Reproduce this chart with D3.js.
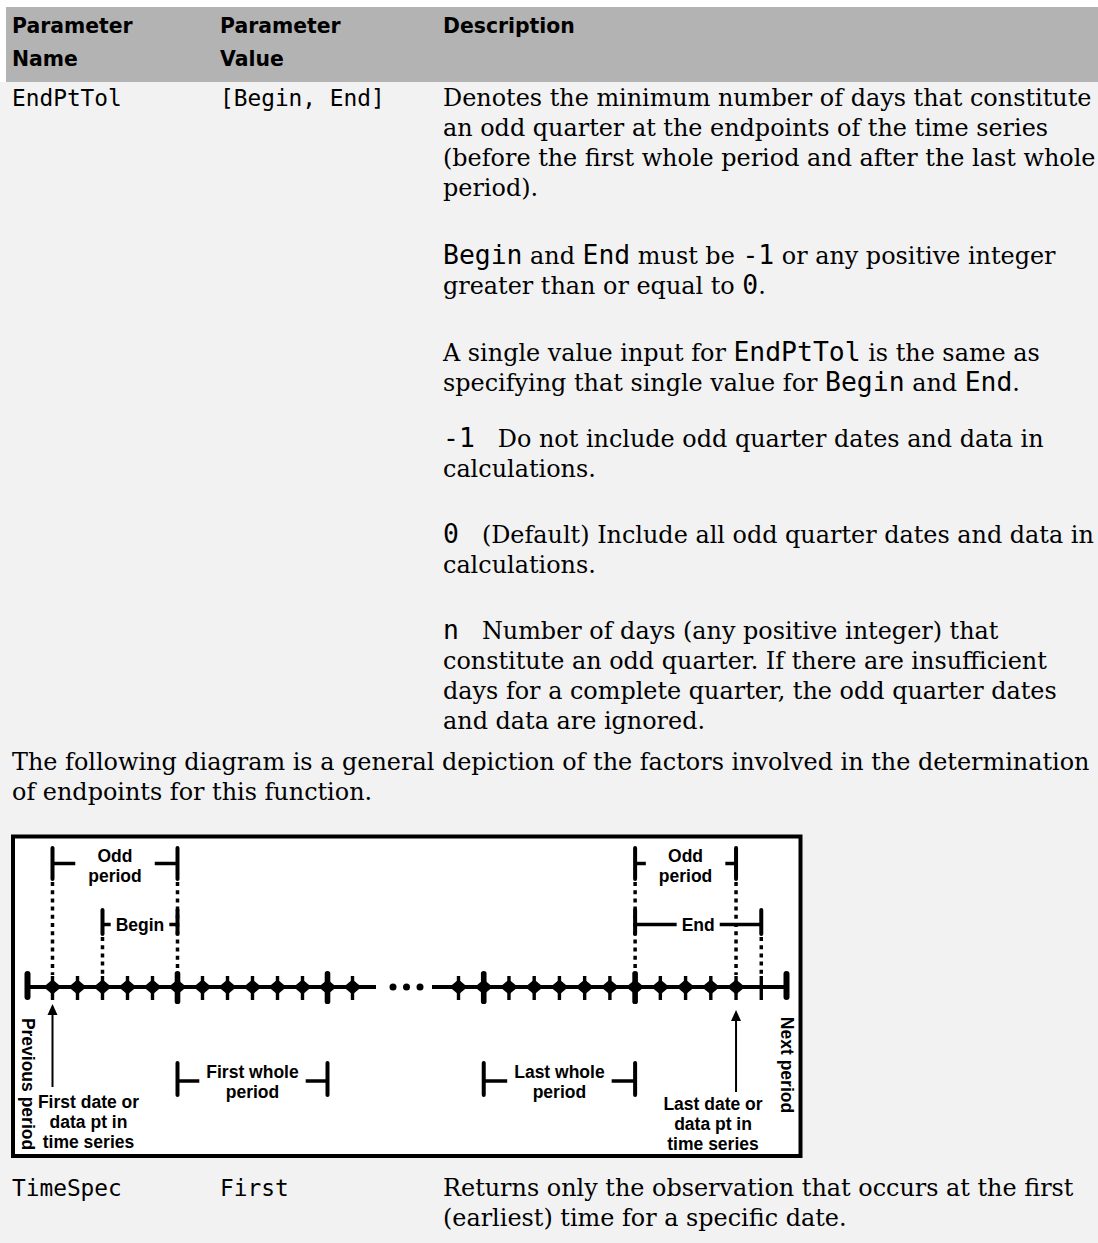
<!DOCTYPE html>
<html><head><meta charset="utf-8">
<script src="https://cdn.jsdelivr.net/npm/d3@7"></script>
<style>html,body{margin:0;padding:0;background:#f2f2f2;overflow:hidden}svg{display:block}</style>
</head><body>
<svg id="c" width="1098" height="1243"></svg>
<script>
// ---------- DATA ----------
const columnHeaders = [["Parameter", "Name"], ["Parameter", "Value"], ["Description"]];
const rowNames = ["EndPtTol", "TimeSpec"];
const rowValues = ["[Begin, End]", "First"];
// backticks mark code (monospace) runs
const endPtTolParagraphs = [
  ["Denotes the minimum number of days that constitute", "an odd quarter at the endpoints of the time series", "(before the first whole period and after the last whole", "period)."],
  ["`Begin` and `End` must be `-1` or any positive integer", "greater than or equal to `0`."],
  ["A single value input for `EndPtTol` is the same as", "specifying that single value for `Begin` and `End`."]
];
const optionTerms = ["-1", "0", "n"];
const optionTexts = [
  ["Do not include odd quarter dates and data in", "calculations."],
  ["(Default) Include all odd quarter dates and data in", "calculations."],
  ["Number of days (any positive integer) that", "constitute an odd quarter. If there are insufficient", "days for a complete quarter, the odd quarter dates", "and data are ignored."]
];
const introLines = ["The following diagram is a general depiction of the factors involved in the determination", "of endpoints for this function."];
const timeSpecLines = ["Returns only the observation that occurs at the first", "(earliest) time for a specific date."];

// diagram: tick kinds along the left and right stretches of the time line
const leftTicks = ["bar", "diamond", "diamond", "diamond", "diamond", "diamond", "major", "diamond", "diamond", "diamond", "diamond", "diamond", "major", "diamond"];
const rightTicks = ["diamond", "major", "diamond", "diamond", "diamond", "diamond", "diamond", "major", "diamond", "diamond", "diamond", "diamond", "tick", "bar"];
const brackets = [
  {side: "L", from: 1, to: 6, level: "top", label: ["Odd", "period"]},
  {side: "L", from: 3, to: 6, level: "mid", label: ["Begin"]},
  {side: "L", from: 6, to: 12, level: "low", label: ["First whole", "period"]},
  {side: "R", from: 7, to: 11, level: "top", label: ["Odd", "period"]},
  {side: "R", from: 7, to: 12, level: "mid", label: ["End"]},
  {side: "R", from: 1, to: 7, level: "low", label: ["Last whole", "period"]}
];
const guides = [
  {side: "L", at: 1, level: "top"}, {side: "L", at: 3, level: "mid"}, {side: "L", at: 6, level: "top"},
  {side: "R", at: 7, level: "top"}, {side: "R", at: 11, level: "top"}, {side: "R", at: 12, level: "mid"}
];
const pointers = [
  {side: "L", at: 1, label: ["First date or", "data pt in", "time series"]},
  {side: "R", at: 11, label: ["Last date or", "data pt in", "time series"]}
];
const edgeLabels = [{side: "L", at: 0, text: "Previous period"}, {side: "R", at: 13, text: "Next period"}];

// ---------- LAYOUT / STYLE ----------
const W = 1098, H = 1243;
const SERIF = "'DejaVu Serif', serif", MONO = "'DejaVu Sans Mono', monospace", SANS = "'DejaVu Sans', sans-serif";
const serifSize = 23.9, cellMonoSize = 22.8, inlineMonoSize = 26.4, lineH = 30;
const colX = [12, 220, 443];
const paraY = [106, 264, 361, 446.5, 543, 639];
const DFONT = "'Liberation Sans', Arial, sans-serif", dSize = 17.5;

const svg = d3.select("#c");
svg.append("rect").attr("width", W).attr("height", H).attr("fill", "#f2f2f2");
svg.append("rect").attr("width", W).attr("height", 7).attr("fill", "#ffffff");
svg.append("rect").attr("y", 0).attr("width", 6).attr("height", 82).attr("fill", "#ffffff");
svg.append("rect").attr("x", 6).attr("y", 7).attr("width", W - 6).attr("height", 75).attr("fill", "#b3b3b3");

// header
columnHeaders.forEach((lines, i) => {
  lines.forEach((t, j) => {
    svg.append("text").attr("x", colX[i]).attr("y", 32.5 + j * 33)
      .attr("font-family", SANS).attr("font-weight", "bold").attr("font-size", 20.4)
      .attr("fill", "#000").text(t);
  });
});

function richLine(x, y, str) {
  const t = svg.append("text").attr("x", x).attr("y", y).attr("fill", "#000")
    .attr("font-family", SERIF).attr("font-size", serifSize).attr("xml:space", "preserve");
  str.split("`").forEach((seg, k) => {
    if (!seg) return;
    t.append("tspan").attr("font-family", k % 2 ? MONO : SERIF)
      .attr("font-size", k % 2 ? inlineMonoSize : serifSize).text(seg);
  });
  return t;
}
function monoText(x, y, s, size) {
  return svg.append("text").attr("x", x).attr("y", y).attr("font-family", MONO)
    .attr("font-size", size).attr("fill", "#000").attr("xml:space", "preserve").text(s);
}

// row 1
monoText(colX[0], paraY[0], rowNames[0], cellMonoSize);
monoText(colX[1], paraY[0], rowValues[0], cellMonoSize);
endPtTolParagraphs.forEach((p, i) => {
  p.forEach((l, j) => richLine(colX[2], paraY[i] + j * lineH, l));
});
optionTerms.forEach((term, i) => {
  const y = paraY[endPtTolParagraphs.length + i];
  const tEl = monoText(colX[2], y, term, inlineMonoSize);
  const tw = tEl.node().getComputedTextLength();
  optionTexts[i].forEach((l, j) => {
    richLine(j === 0 ? colX[2] + tw + 23 : colX[2], y + j * lineH, l);
  });
});
// intro paragraph
introLines.forEach((l, j) => richLine(12, 770 + j * lineH, l));
// row 2
monoText(colX[0], 1195.5, rowNames[1], cellMonoSize);
monoText(colX[1], 1195.5, rowValues[1], cellMonoSize);
timeSpecLines.forEach((l, j) => richLine(colX[2], 1195.5 + j * lineH, l));

// ---------- DIAGRAM ----------
const g = svg.append("g");
g.append("rect").attr("x", 13).attr("y", 836.5).attr("width", 787.5).attr("height", 319.5)
  .attr("fill", "#fff").attr("stroke", "#000").attr("stroke-width", 4);

const xL = d3.scaleLinear().domain([0, 13]).range([27.5, 352.5]);
const xR = d3.scaleLinear().domain([0, 13]).range([458.5, 786.5]);
const xs = side => side === "L" ? xL : xR;
const axisY = 987;

// time line
g.append("line").attr("x1", xL(0)).attr("x2", 376).attr("y1", axisY).attr("y2", axisY).attr("stroke", "#000").attr("stroke-width", 4);
g.append("line").attr("x1", 432).attr("x2", xR(13)).attr("y1", axisY).attr("y2", axisY).attr("stroke", "#000").attr("stroke-width", 4);
g.selectAll("circle.ell").data(d3.range(3)).join("circle")
  .attr("cx", i => 393 + i * 13.5).attr("cy", axisY).attr("r", 3.5).attr("fill", "#000");

function drawTicks(kinds, sc) {
  kinds.forEach((k, i) => {
    const x = sc(i);
    if (k === "bar") {
      g.append("rect").attr("x", x - 3).attr("y", 971).attr("width", 6).attr("height", 29).attr("rx", 3).attr("fill", "#000");
    } else if (k === "major") {
      g.append("rect").attr("x", x - 2.8).attr("y", 971).attr("width", 5.6).attr("height", 33).attr("rx", 2.6).attr("fill", "#000");
    } else {
      g.append("line").attr("x1", x).attr("x2", x).attr("y1", 976).attr("y2", 1000).attr("stroke", "#000").attr("stroke-width", 3.4);
    }
    if (k === "diamond" || k === "major") {
      g.append("path").attr("d", `M${x - 9},${axisY}L${x},${axisY - 7.5}L${x + 9},${axisY}L${x},${axisY + 7.5}Z`).attr("fill", "#000");
    }
  });
}
drawTicks(leftTicks, xL);
drawTicks(rightTicks, xR);

const levels = {
  top: {y0: 848, y1: 879, hy: 863.5, base: [862, 881.5], gap: 13},
  mid: {y0: 910, y1: 934, hy: 924.5, base: [931], gap: 5},
  low: {y0: 1063, y1: 1095, hy: 1081, base: [1077.5, 1097.5], gap: 7}
};
function dText(x, y, s, anchor) {
  return g.append("text").attr("x", x).attr("y", y).attr("text-anchor", anchor || "middle")
    .attr("font-family", DFONT).attr("font-weight", "bold").attr("font-size", dSize).attr("fill", "#000").text(s);
}

// guides (dotted)
guides.forEach(d => {
  const x = xs(d.side)(d.at);
  g.append("line").attr("x1", x).attr("x2", x).attr("y1", levels[d.level].y1 + 3).attr("y2", 975)
    .attr("stroke", "#000").attr("stroke-width", 3.5).attr("stroke-dasharray", "4,4.2");
});

// brackets
brackets.forEach(b => {
  const sc = xs(b.side), L = levels[b.level];
  const xa = sc(b.from), xb = sc(b.to), cx = (xa + xb) / 2;
  let tw = 0;
  b.label.forEach((s, j) => {
    const t = dText(cx, L.base[j], s);
    tw = Math.max(tw, t.node().getComputedTextLength());
  });
  [xa, xb].forEach(x => g.append("line").attr("x1", x).attr("x2", x).attr("y1", L.y0).attr("y2", L.y1)
    .attr("stroke", "#000").attr("stroke-width", 4).attr("stroke-linecap", "round"));
  g.append("line").attr("x1", xa).attr("x2", cx - tw / 2 - L.gap).attr("y1", L.hy).attr("y2", L.hy).attr("stroke", "#000").attr("stroke-width", 3.5);
  g.append("line").attr("x1", cx + tw / 2 + L.gap).attr("x2", xb).attr("y1", L.hy).attr("y2", L.hy).attr("stroke", "#000").attr("stroke-width", 3.5);
});

// pointers (arrows + labels)
const pointerGeom = {L: {tip: 1004, end: 1087, dx: 36, base: [1108, 1128, 1148]}, R: {tip: 1010, end: 1092, dx: -23, base: [1110, 1130, 1150]}};
pointers.forEach(p => {
  const x = xs(p.side)(p.at), P = pointerGeom[p.side];
  g.append("line").attr("x1", x).attr("x2", x).attr("y1", P.tip + 8).attr("y2", P.end).attr("stroke", "#000").attr("stroke-width", 2);
  g.append("path").attr("d", `M${x},${P.tip}L${x - 5},${P.tip + 11}L${x + 5},${P.tip + 11}Z`).attr("fill", "#000");
  p.label.forEach((s, j) => dText(x + P.dx, P.base[j], s));
});

// rotated edge labels
const edgeGeom = {L: {x: 21.5, y: 1084}, R: {x: 780.5, y: 1065}};
edgeLabels.forEach(e => {
  const E = edgeGeom[e.side];
  g.append("text").attr("transform", `translate(${E.x},${E.y}) rotate(90)`).attr("text-anchor", "middle")
    .attr("font-family", DFONT).attr("font-weight", "bold").attr("font-size", dSize).attr("fill", "#000").text(e.text);
});
</script>
</body></html>
